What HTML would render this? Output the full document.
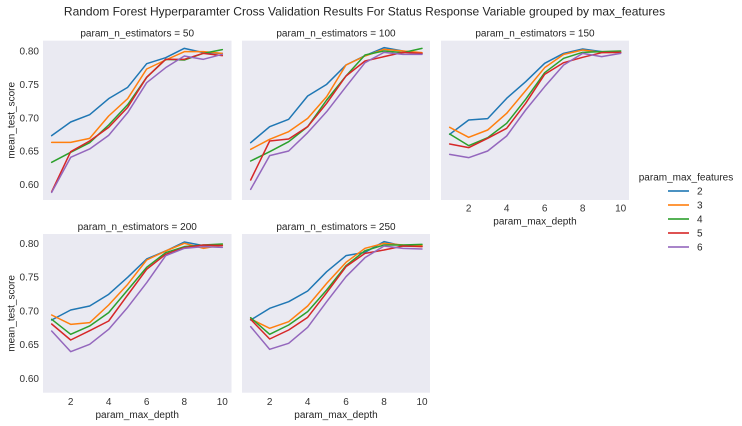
<!DOCTYPE html>
<html><head><meta charset="utf-8"><style>
html,body{margin:0;padding:0;background:#fff;}
svg{display:block;font-family:"Liberation Sans",Arial,sans-serif;}
</style></head><body>
<svg width="742" height="426" viewBox="0 0 742 426" xmlns="http://www.w3.org/2000/svg">
<rect width="742" height="426" fill="#fff"/>
<text x="364.5" y="15.5" font-size="12" fill="#262626" text-anchor="middle">Random Forest Hyperparamter Cross Validation Results For Status Response Variable grouped by max_features</text>

<!-- axes backgrounds -->
<rect x="43" y="40.7" width="188.5" height="159.3" fill="#EAEAF2"/>
<rect x="242" y="40.7" width="188" height="159.3" fill="#EAEAF2"/>
<rect x="441" y="40.7" width="188" height="159.3" fill="#EAEAF2"/>
<rect x="43" y="234" width="188.5" height="158.7" fill="#EAEAF2"/>
<rect x="242" y="234" width="188" height="158.7" fill="#EAEAF2"/>

<!-- panel titles -->
<g font-size="10" fill="#262626" text-anchor="middle">
<text x="137.2" y="36.5">param_n_estimators = 50</text>
<text x="336" y="36.5">param_n_estimators = 100</text>
<text x="535" y="36.5">param_n_estimators = 150</text>
<text x="137.2" y="230">param_n_estimators = 200</text>
<text x="336" y="230">param_n_estimators = 250</text>
</g>

<!-- y tick labels -->
<g font-size="10" fill="#333" text-anchor="end">
<text x="39" y="54.6">0.80</text>
<text x="39" y="88">0.75</text>
<text x="39" y="121.4">0.70</text>
<text x="39" y="154.7">0.65</text>
<text x="39" y="188">0.60</text>
<text x="39" y="246.9">0.80</text>
<text x="39" y="280.6">0.75</text>
<text x="39" y="314.4">0.70</text>
<text x="39" y="348.1">0.65</text>
<text x="39" y="381.9">0.60</text>
</g>

<!-- y labels -->
<g font-size="10" fill="#262626" text-anchor="middle">
<text transform="translate(14.5,120.3) rotate(-90)">mean_test_score</text>
<text transform="translate(14.5,313.4) rotate(-90)">mean_test_score</text>
</g>

<!-- x tick labels -->
<g font-size="10" fill="#333" text-anchor="middle">
<text x="468.7" y="211.5">2</text><text x="506.7" y="211.5">4</text><text x="544.7" y="211.5">6</text><text x="582.7" y="211.5">8</text><text x="620.7" y="211.5">10</text>
<text x="70.7" y="405">2</text><text x="108.7" y="405">4</text><text x="146.7" y="405">6</text><text x="184.3" y="405">8</text><text x="222.3" y="405">10</text>
<text x="269.7" y="405">2</text><text x="307.7" y="405">4</text><text x="346" y="405">6</text><text x="384" y="405">8</text><text x="422" y="405">10</text>
</g>
<!-- x labels -->
<g font-size="10" fill="#262626" text-anchor="middle">
<text x="535" y="224.5">param_max_depth</text>
<text x="137.2" y="418">param_max_depth</text>
<text x="336" y="418">param_max_depth</text>
</g>

<g fill="none" stroke-width="4.5" stroke-linejoin="round" stroke-linecap="round">
<!-- panel 1 -->
<g transform="translate(0,20) scale(0.33333)">
<polyline stroke="#1f77b4" points="155,347 212,306 269,284 326,236 383,202 440,131 497,113 553,85 610,98 667,100"/>
<polyline stroke="#ff7f0e" points="155,367 212,367 269,355 326,288 383,236 440,147 497,120 553,95 610,95 667,100"/>
<polyline stroke="#2ca02c" points="155,427 212,397 269,368 326,315 383,254 440,172 497,118 553,120 610,100 667,89"/>
<polyline stroke="#d62728" points="155,515 212,395 269,363 326,322 383,262 440,172 497,118 553,118 610,100 667,107"/>
<polyline stroke="#9467bd" points="155,517 212,412 269,387 326,346 383,278 440,188 497,143 553,108 610,118 667,103"/>
</g>
<!-- panel 2 -->
<g transform="translate(230,20) scale(0.33333)">
<polyline stroke="#1f77b4" points="62,368 119,320 176,298 233,228 290,193 348,135 405,107 462,83 519,93 576,100"/>
<polyline stroke="#ff7f0e" points="62,388 119,358 176,335 233,295 290,230 348,135 405,108 462,88 519,93 576,98"/>
<polyline stroke="#2ca02c" points="62,423 119,395 176,365 233,320 290,240 348,168 405,105 462,93 519,98 576,85"/>
<polyline stroke="#d62728" points="62,480 119,363 176,357 233,320 290,250 348,168 405,123 462,110 519,97 576,100"/>
<polyline stroke="#9467bd" points="62,508 119,407 176,393 233,338 290,275 348,200 405,128 462,97 519,103 576,103"/>
</g>
<!-- panel 3 -->
<g transform="translate(430,20) scale(0.33333)">
<polyline stroke="#1f77b4" points="59,343 116,300 173,296 230,235 287,185 344,130 401,100 458,87 515,95 572,97"/>
<polyline stroke="#ff7f0e" points="59,322 116,352 173,330 230,280 287,212 344,143 401,103 458,90 515,97 572,97"/>
<polyline stroke="#2ca02c" points="59,342 116,377 173,353 230,310 287,238 344,158 401,115 458,97 515,95 572,93"/>
<polyline stroke="#d62728" points="59,372 116,383 173,355 230,325 287,250 344,163 401,128 458,112 515,98 572,97"/>
<polyline stroke="#9467bd" points="59,403 116,413 173,393 230,348 287,270 344,200 401,135 458,100 515,110 572,100"/>
</g>
<!-- panel 4 -->
<g transform="translate(0,220) scale(0.33333)">
<polyline stroke="#1f77b4" points="155,300 212,270 269,258 326,223 383,172 440,117 497,93 553,66 610,77 667,75"/>
<polyline stroke="#ff7f0e" points="155,285 212,313 269,308 326,255 383,193 440,120 497,93 553,70 610,85 667,75"/>
<polyline stroke="#2ca02c" points="155,298 212,343 269,318 326,278 383,210 440,142 497,98 553,80 610,75 667,72"/>
<polyline stroke="#d62728" points="155,312 212,360 269,332 326,303 383,225 440,148 497,103 553,83 610,75 667,77"/>
<polyline stroke="#9467bd" points="155,333 212,395 269,373 326,328 383,262 440,188 497,107 553,85 610,80 667,82"/>
</g>
<!-- panel 5 -->
<g transform="translate(230,220) scale(0.33333)">
<polyline stroke="#1f77b4" points="62,300 119,265 176,245 233,213 290,155 348,107 405,97 462,65 519,78 576,78"/>
<polyline stroke="#ff7f0e" points="62,297 119,325 176,305 233,258 290,190 348,127 405,85 462,70 519,75 576,77"/>
<polyline stroke="#2ca02c" points="62,293 119,343 176,315 233,275 290,210 348,137 405,92 462,75 519,75 576,73"/>
<polyline stroke="#d62728" points="62,298 119,357 176,330 233,292 290,218 348,140 405,100 462,90 519,78 576,80"/>
<polyline stroke="#9467bd" points="62,320 119,388 176,370 233,322 290,245 348,170 405,113 462,78 519,85 576,87"/>
</g>
</g>

<!-- legend -->
<text x="686" y="180.5" font-size="10" fill="#262626" text-anchor="middle">param_max_features</text>
<g stroke-width="2" opacity="0.8">
<line x1="668" y1="191" x2="689" y2="191" stroke="#1f77b4"/>
<line x1="668" y1="205" x2="689" y2="205" stroke="#ff7f0e"/>
<line x1="668" y1="219" x2="689" y2="219" stroke="#2ca02c"/>
<line x1="668" y1="233" x2="689" y2="233" stroke="#d62728"/>
<line x1="668" y1="247" x2="689" y2="247" stroke="#9467bd"/>
</g>
<g font-size="10" fill="#262626">
<text x="697" y="194.6">2</text>
<text x="697" y="208.6">3</text>
<text x="697" y="222.6">4</text>
<text x="697" y="236.6">5</text>
<text x="697" y="250.6">6</text>
</g>
</svg>
</body></html>
